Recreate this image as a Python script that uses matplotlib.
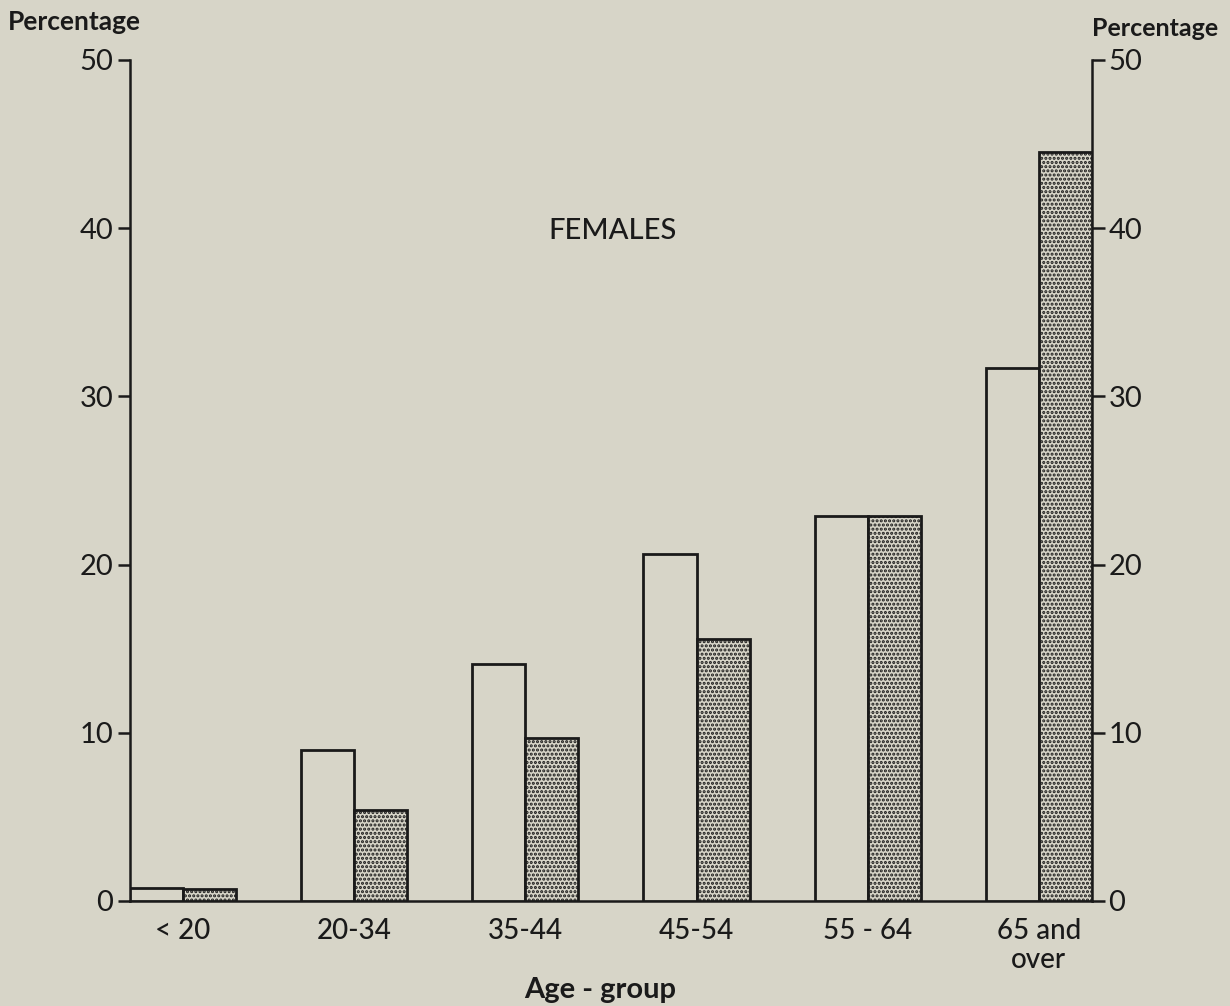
import matplotlib
matplotlib.use("Agg")
import matplotlib.pyplot as plt
import numpy as np

categories = ["< 20", "20-34", "35-44", "45-54", "55 - 64", "65 and\nover"]
white_values = [0.8, 9.0, 14.1, 20.6, 22.9, 31.7]
shaded_values = [0.7, 5.4, 9.7, 15.6, 22.9, 44.5]
yticks = [0, 10, 20, 30, 40, 50]

bg = "#d7d5c8"
ink = "#1a1a1a"
plt.rcParams['font.family'] = ['Lato', 'DejaVu Sans']
plt.rcParams['hatch.linewidth'] = 1.5
plt.rcParams['hatch.color'] = ink

fig = plt.figure(figsize=(12.30, 10.06), dpi=100, facecolor=bg)
ax = fig.add_axes([0.1057, 0.1044, 0.782, 0.836])
ax.set_facecolor(bg)
ax.patch.set_alpha(0)

x = np.arange(len(categories))
w = 0.31
ax.bar(x - w/2, white_values, width=w, facecolor=bg, edgecolor=ink, linewidth=2.0, zorder=3)
ax.bar(x + w/2, shaded_values, width=w, facecolor=bg, edgecolor=ink, linewidth=2.0,
       hatch='....', zorder=3)

ax.set_xlim(-w, len(categories) - 1 + w)
ax.set_ylim(0, 50)
ax.set_yticks(yticks)
ax.set_yticklabels([str(v) for v in yticks])
ax.set_xticks(x)
ax.set_xticklabels(categories, fontsize=20, linespacing=1.15, fontweight='medium')
ax.tick_params(axis='x', length=0, pad=12, colors=ink)
ax.tick_params(axis='y', direction='out', length=9, width=1.8, labelsize=21, pad=3, colors=ink,
               left=True, right=True, labelleft=True, labelright=True)

ax.spines['top'].set_visible(False)
for s in ['left', 'right', 'bottom']:
    ax.spines[s].set_linewidth(1.8)
    ax.spines[s].set_color(ink)

ax.text(0.502, 0.797, "FEMALES", transform=ax.transAxes, ha='center', va='center',
        fontsize=21, color=ink, fontweight='medium')

fig.text(0.0065, 0.978, "Percentage", ha='left', va='center', fontsize=19, fontweight='bold', color=ink)
fig.text(0.99, 0.972, "Percentage", ha='right', va='center', fontsize=18, fontweight='bold', color=ink)
fig.text(0.488, 0.016, "Age - group", ha='center', va='center', fontsize=21, fontweight='bold', color=ink)

fig.savefig("out.png", dpi=100, facecolor=bg)
